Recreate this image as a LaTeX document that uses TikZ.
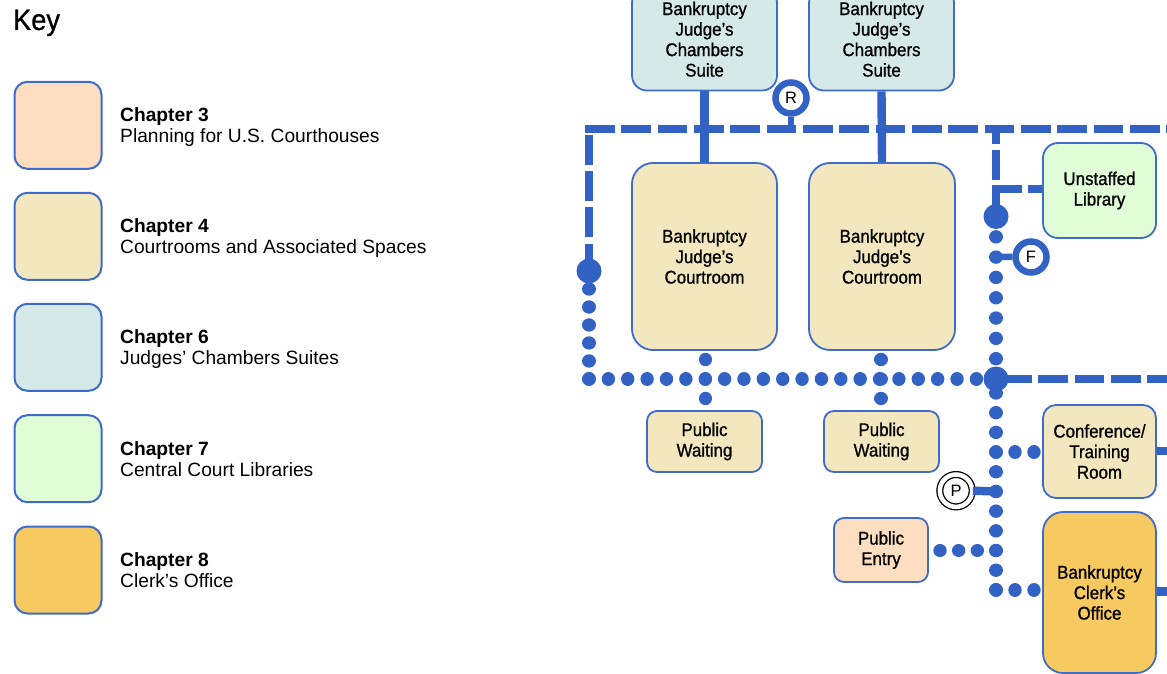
\documentclass[tikz,border=0pt]{standalone}
\usepackage{fontspec}
\setmainfont{Liberation Sans}
\newfontfamily\condfam[FakeStretch=0.92, FakeBold=0.9]{Liberation Sans}
\definecolor{lineblue}{RGB}{50,98,196}
\definecolor{edgeblue}{RGB}{62,108,200}
\definecolor{cthree}{RGB}{253,222,193}
\definecolor{cfour}{RGB}{242,231,190}
\definecolor{csix}{RGB}{214,233,233}
\definecolor{cseven}{RGB}{224,253,216}
\definecolor{ceight}{RGB}{246,202,96}
\newcommand\roomfont{\condfam\fontsize{18.4}{20.5}\selectfont}
\newcommand\keyheadfont{\condfam\fontsize{29.5}{30}\selectfont}
\newcommand\keyboldfont{\fontsize{19.2}{21}\selectfont\bfseries}
\newcommand\keyregfont{\fontsize{19.2}{21}\selectfont}
\tikzset{
  room/.style={draw=edgeblue, line width=1.8pt, align=center, font=\roomfont, inner sep=0pt},
  keybox/.style={draw=edgeblue, line width=2pt, minimum width=87pt, minimum height=87pt, rounded corners=13pt, inner sep=0pt},
  keytext/.style={anchor=base west, inner sep=0pt},
  dashline/.style={draw=lineblue, line width=8.4pt, dash pattern=on 29.8pt off 6.53pt},
  solidline/.style={draw=lineblue, line width=8.4pt},
  thinstem/.style={draw=lineblue, line width=6.5pt},
  dotline/.style={draw=lineblue, line width=13.4pt, line cap=round, dash pattern=on 0.01pt off #1},
  bigdot/.style={circle, fill=lineblue, minimum size=25pt, inner sep=0pt},
  markring/.style={circle, draw=lineblue, line width=6.5pt, fill=white, minimum size=31pt, inner sep=0pt, font=\fontsize{16.5}{16.5}\selectfont},
}
\begin{document}
\begin{tikzpicture}[x=1pt,y=-1pt]
\useasboundingbox (0,0) rectangle (1167,674);
\fill[white] (0,0) rectangle (1167,674);
\clip (0,0) rectangle (1167,674);

% ---------- Key ----------
\node[keytext, font=\keyheadfont] (keytitle) at (13,30) {Key};
\node[keybox, fill=cthree] (k3) at (58,125.3) {};
\node[keybox, fill=cfour]  (k4) at (58,236.3) {};
\node[keybox, fill=csix]   (k6) at (58,347.3) {};
\node[keybox, fill=cseven] (k7) at (58,458.7) {};
\node[keybox, fill=ceight] (k8) at (58,570) {};
\node[keytext, font=\keyboldfont] (k3a) at (120,121.8) {Chapter 3};
\node[keytext, font=\keyregfont]  (k3b) at (120,142.8) {Planning for U.S. Courthouses};
\node[keytext, font=\keyboldfont] (k4a) at (120,232.8) {Chapter 4};
\node[keytext, font=\keyregfont]  (k4b) at (120,253.8) {Courtrooms and Associated Spaces};
\node[keytext, font=\keyboldfont] (k6a) at (120,343.8) {Chapter 6};
\node[keytext, font=\keyregfont]  (k6b) at (120,364.8) {Judges’ Chambers Suites};
\node[keytext, font=\keyboldfont] (k7a) at (120,455.2) {Chapter 7};
\node[keytext, font=\keyregfont]  (k7b) at (120,476.2) {Central Court Libraries};
\node[keytext, font=\keyboldfont] (k8a) at (120,566.5) {Chapter 8};
\node[keytext, font=\keyregfont]  (k8b) at (120,587.0) {Clerk’s Office};

% ---------- coordinates ----------
\coordinate (topstart) at (585,129);
\coordinate (topend) at (1167,129);
\coordinate (leftstart) at (589,273.5);
\coordinate (leftend) at (589,125);
\coordinate (lbc) at (589,271);
\coordinate (bl) at (589,379);
\coordinate (rowend) at (996,379);
\coordinate (ubc) at (996,216.5);
\coordinate (rtop) at (996,129);
\coordinate (libcorner) at (992,189);
\coordinate (fdot) at (996,256.75);
\coordinate (lowtop) at (996,393);
\coordinate (lowend) at (996,590);
\coordinate (midright) at (1002,379);
\coordinate (midend) at (1167,379);
\coordinate (confa) at (996,452.1);
\coordinate (confb) at (1034,452.1);
\coordinate (entrya) at (940,550.6);
\coordinate (entryb) at (996,550.6);
\coordinate (clerka) at (996,590);
\coordinate (clerkb) at (1034,590);
\coordinate (pdot) at (996,491.5);
\coordinate (wa1) at (705.5,359.5);
\coordinate (wb1) at (705.5,398.5);
\coordinate (wa2) at (881,359.5);
\coordinate (wb2) at (881,398.5);
\coordinate (rline) at (791,129);
\coordinate (confstub) at (1167,451);
\coordinate (clerkstub) at (1167,591.5);

% ---------- rooms ----------
\node[room, fill=csix, minimum width=145pt, minimum height=102.5pt, rounded corners=15pt] (ch1) at (704.5,39.25) {Bankruptcy\\Judge’s\\Chambers\\Suite};
\node[room, fill=csix, minimum width=145pt, minimum height=102.5pt, rounded corners=15pt] (ch2) at (881.5,39.25) {Bankruptcy\\Judge’s\\Chambers\\Suite};
\node[room, fill=cfour, minimum width=145pt, minimum height=187pt, rounded corners=21pt] (ct1) at (704.5,256.5) {Bankruptcy\\Judge’s\\Courtroom};
\node[room, fill=cfour, minimum width=146pt, minimum height=187pt, rounded corners=21pt] (ct2) at (882,256.5) {Bankruptcy\\Judge’s\\Courtroom};
\node[room, fill=cfour, minimum width=115pt, minimum height=61pt, rounded corners=10pt] (pw1) at (704.5,441.5) {Public\\Waiting};
\node[room, fill=cfour, minimum width=115pt, minimum height=61pt, rounded corners=10pt] (pw2) at (881.5,441.5) {Public\\Waiting};
\node[room, fill=cseven, minimum width=113pt, minimum height=95pt, rounded corners=15pt] (lib) at (1099.5,190.5) {Unstaffed\\Library};
\node[room, fill=cfour, minimum width=113pt, minimum height=93pt, rounded corners=13pt] (conf) at (1099.5,451.5) {Conference/\\Training\\Room};
\node[room, fill=ceight, minimum width=113pt, minimum height=161pt, rounded corners=20pt] (clerk) at (1099.5,592.5) {Bankruptcy\\Clerk’s\\Office};
\node[room, fill=cthree, minimum width=94pt, minimum height=64pt, rounded corners=10pt] (entry) at (881,550) {Public\\Entry};

% ---------- connectors ----------
\draw[dashline] (topstart) -- (topend);
\draw[dashline] (leftstart) -- (leftend);
\draw[dashline] (ubc) -- (rtop);
\draw[dashline] (libcorner) -- (libcorner -| lib.west);
\draw[dashline] (midright) -- (midend);
\draw[solidline] (ch1.south) -- (ct1.north);
\draw[solidline] (ch2.south) -- (ct2.north);
\draw[solidline] (conf.east |- confstub) -- (confstub);
\draw[solidline] (clerk.east |- clerkstub) -- (clerkstub);
\draw[dotline=17.98pt] (lbc) -- (bl);
\draw[dotline=19.36pt] (bl) -- (rowend);
\draw[dotline=20.30pt] (ubc) -- (rowend);
\draw[dotline=19.68pt] (lowtop) -- (lowend);
\draw[dotline=19.48pt] (wa1) -- (wb1);
\draw[dotline=19.48pt] (wa2) -- (wb2);
\draw[dotline=18.98pt] (confa) -- (confb);
\draw[dotline=18.65pt] (entrya) -- (entryb);
\draw[dotline=18.98pt] (clerka) -- (clerkb);

\node[bigdot] (lb) at (lbc) {};
\node[bigdot] (ub) at (ubc) {};
\node[bigdot] (mb) at (rowend) {};

% ---------- markers ----------
\node[markring] (rc) at (791,98) {R};
\draw[thinstem] (rc.south) -- (rline);
\node[markring] (fc) at (1031,257) {F};
\draw[thinstem] (fdot) -- (fc.west);
\node[circle, draw=black, line width=1.3pt, double=white, double distance=4.5pt, fill=white, minimum size=32.4pt, inner sep=0pt, font=\fontsize{16.5}{16.5}\selectfont] (pc) at (956,490.7) {P};
\draw[solidline] (pc.east) -- (pdot);
\fill[lineblue] (pdot) circle (6.7pt);
\end{tikzpicture}
\end{document}
